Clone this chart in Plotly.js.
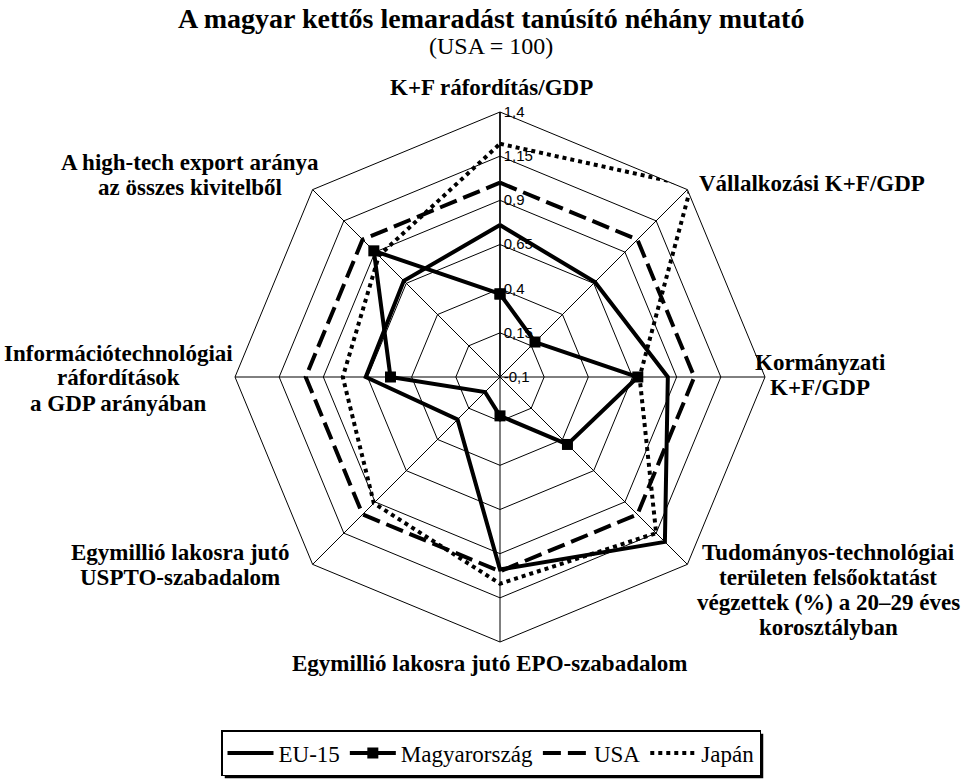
<!DOCTYPE html>
<html>
<head>
<meta charset="utf-8">
<script src="https://cdn.plot.ly/plotly-3.0.1.min.js"></script>
<style>html,body{margin:0;padding:0;background:#fff;}#chart{width:963px;height:781px;}</style>
</head>
<body>
<div id="chart"></div>
<script>
// Categories (axis labels, clockwise from top)
var categories = [
  "K+F ráfordítás/GDP",
  "Vállalkozási K+F/GDP",
  "Kormányzati<br>K+F/GDP",
  "Tudományos-technológiai<br>területen felsőoktatást<br>végzettek (%) a 20–29 éves<br>korosztályban",
  "Egymillió lakosra jutó EPO-szabadalom",
  "Egymillió lakosra jutó<br>USPTO-szabadalom",
  "Információtechnológiai<br>ráfordítások<br>a GDP arányában",
  "A high-tech export aránya<br>az összes kivitelből"
];
var seriesNames = ["EU-15", "Magyarország", "USA", "Japán"];
var eu15 = [0.76, 0.66, 0.85, 1.22, 0.99, 0.24, 0.66, 0.67];
var magyar = [0.37, 0.18, 0.68, 0.44, 0.12, 0.02, 0.52, 0.91];
var usa = [1.0, 1.0, 1.0, 1.0, 1.0, 1.0, 1.0, 1.0];
var japan = [1.22, 1.43, 0.69, 1.15, 1.07, 0.91, 0.79, 0.87];
var tickVals = [-0.1, 0.15, 0.4, 0.65, 0.9, 1.15, 1.4];
var tickText = ["-0,1", "0,15", "0,4", "0,65", "0,9", "1,15", "1,4"];
var titleText = "A magyar kettős lemaradást tanúsító néhány mutató";
var subtitleText = "(USA = 100)";

var ids = categories.map(function(c, i){ return "c" + i; });
function closed(a){ return a.concat([a[0]]); }

var serif = "Liberation Serif, Times New Roman, serif";

function trace(name, vals, dash, marker){
  var t = {
    type: "scatterpolar",
    name: name,
    r: closed(vals),
    theta: closed(ids),
    mode: marker ? "lines+markers" : "lines",
    line: {color: "#000", width: 4, dash: dash},
    cliponaxis: false,
    hoverinfo: "skip"
  };
  if (marker) t.marker = {symbol: "square", size: 11, color: "#000"};
  return t;
}

var data = [
  trace(seriesNames[0], eu15, "solid", false),
  trace(seriesNames[1], magyar, "solid", true),
  trace(seriesNames[2], usa, "18px,7px", false),
  trace(seriesNames[3], japan, "4px,4px", false)
];

var W = 963, H = 781;
var LINE = 25;
// [x, y of block centre, anchor]
var labelPos = [
  [491, 88, "center"],
  [697, 183, "left"],
  [820, 375, "center"],
  [828, 590, "center"],
  [490, 663, "center"],
  [180, 565, "center"],
  [118, 378, "center"],
  [190, 175, "center"]
];
var annotations = [];
categories.forEach(function(c, i){
  var p = labelPos[i];
  var lines = c.split("<br>");
  var y0 = p[1] - (lines.length - 1) * LINE / 2;
  lines.forEach(function(ln, k){
    annotations.push({
      xref: "paper", yref: "paper",
      x: p[0] / W, y: 1 - (y0 + k * LINE) / H,
      xanchor: p[2], yanchor: "middle",
      text: "<b>" + ln + "</b>",
      showarrow: false,
      font: {family: serif, size: 23, color: "#000"}
    });
  });
});
annotations.push({
  xref: "paper", yref: "paper", x: 491 / W, y: 1 - 19 / H,
  xanchor: "center", yanchor: "middle", showarrow: false,
  text: "<b>" + titleText + "</b>",
  font: {family: serif, size: 28, color: "#000"}
});
annotations.push({
  xref: "paper", yref: "paper", x: 491 / W, y: 1 - 46 / H,
  xanchor: "center", yanchor: "middle", showarrow: false,
  text: subtitleText,
  font: {family: serif, size: 24, color: "#000"}
});

var cx = 500, cy = 377, R = 265;
var layout = {
  width: W, height: H,
  margin: {l: 0, r: 0, t: 0, b: 0},
  paper_bgcolor: "#fff",
  plot_bgcolor: "#fff",
  separators: ",.",
  showlegend: true,
  polar: {
    domain: {x: [(cx - R) / W, (cx + R) / W], y: [1 - (cy + R) / H, 1 - (cy - R) / H]},
    gridshape: "linear",
    bgcolor: "#fff",
    radialaxis: {
      range: [-0.1, 1.4],
      tickvals: tickVals,
      ticktext: tickText,
      angle: 90,
      side: "clockwise",
      tickangle: 90,
      ticks: "",
      showline: true,
      linecolor: "#000",
      linewidth: 1.5,
      gridcolor: "#000",
      gridwidth: 1,
      tickfont: {family: "Liberation Sans, Arial, sans-serif", size: 15, color: "#000"}
    },
    angularaxis: {
      type: "category",
      categoryarray: ids,
      direction: "clockwise",
      rotation: 90,
      showticklabels: false,
      ticks: "",
      linecolor: "#000",
      linewidth: 1,
      gridcolor: "#000",
      gridwidth: 1
    }
  },
  legend: {
    orientation: "h",
    x: 491 / W, xanchor: "center",
    y: 1 - 753 / H, yanchor: "middle",
    bordercolor: "#000",
    borderwidth: 1.5,
    bgcolor: "#fff",
    font: {family: serif, size: 23, color: "#000"},
    itemwidth: 46
  },
  annotations: annotations
};

var gd = document.getElementById("chart");
Plotly.newPlot(gd, data, layout, {displayModeBar: false, staticPlot: true});

// drop shadow at the right and bottom of the legend box, as in the reference
function addShadow(){
  var bg = gd.querySelector(".legend rect.bg");
  if (!bg) return false;
  var root = gd.getBoundingClientRect();
  var b = bg.getBoundingClientRect();
  if (!b.width) return false;
  var off = 3;
  Plotly.relayout(gd, {shapes: [{
    type: "rect", xref: "paper", yref: "paper", layer: "below",
    x0: (b.left - root.left + off) / W, x1: (b.right - root.left + off) / W,
    y0: 1 - (b.bottom - root.top + off) / H, y1: 1 - (b.top - root.top + off) / H,
    fillcolor: "#000", line: {width: 0}
  }]});
  return true;
}
if (!addShadow()) { setTimeout(addShadow, 0); }
</script>
</body>
</html>
